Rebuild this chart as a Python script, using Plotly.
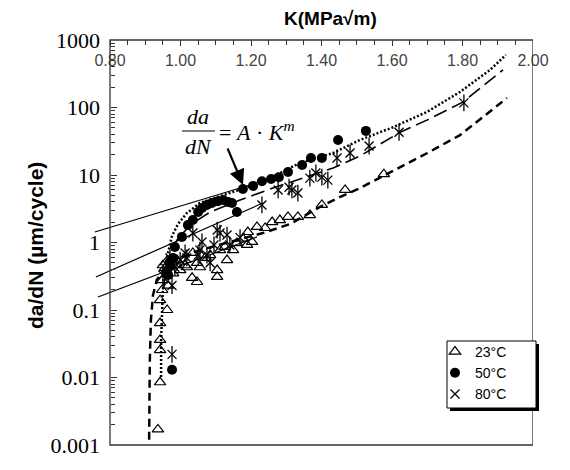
import plotly.graph_objects as go

# ---- data (K in MPa*sqrt(m), da/dN in um/cycle) ----
k_23 = [0.936, 0.942, 0.942, 0.942, 0.942, 0.962, 0.942, 0.948, 0.948, 0.956, 0.950,
        0.970, 0.979, 0.990, 0.999, 1.018, 1.035, 1.033, 1.047, 1.047, 1.055, 1.104,
        1.104, 1.112, 1.132, 1.149, 1.160, 1.189, 1.191, 1.203, 1.217, 1.240, 1.260,
        1.282, 1.305, 1.333, 1.367, 1.401, 1.467, 1.577, 0.959, 0.976, 0.965, 1.013,
        1.070, 1.084, 1.177, 1.126]
v_23 = [0.0017, 0.0085, 0.0255, 0.036, 0.064, 0.10, 0.14, 0.198, 0.278, 0.42, 0.46,
        0.55, 0.35, 0.55, 0.39, 0.43, 0.70, 0.30, 0.26, 0.50, 0.43, 0.31,
        0.39, 0.77, 0.55, 0.77, 0.98, 0.92, 1.43, 1.02, 1.70, 1.64, 2.01,
        2.15, 2.39, 2.39, 2.55, 3.6, 6.0, 10.3, 0.51, 0.51, 0.23, 0.46,
        0.59, 0.65, 1.14, 0.86]

k_50 = [0.976, 0.965, 0.970, 0.979, 0.984, 1.004, 1.021, 1.035, 1.050, 1.061, 1.075,
        1.089, 1.106, 1.121, 1.135, 1.146, 1.160, 1.177, 1.206, 1.231, 1.257, 1.279,
        1.305, 1.345, 1.370, 1.401, 1.447, 1.526]
v_50 = [0.013, 0.33, 0.46, 0.59, 0.86, 1.21, 1.81, 2.15, 2.83, 3.25, 3.6,
        3.85, 4.1, 4.27, 3.98, 3.85, 2.83, 6.2, 6.9, 8.1, 8.7, 9.3,
        11.1, 14.1, 17.9, 17.9, 33, 45]

k_80 = [0.976, 0.950, 0.962, 0.984, 0.999, 1.018, 1.035, 1.050, 1.055, 1.061, 1.075,
        1.084, 1.104, 1.112, 1.132, 1.140, 1.231, 1.277, 1.308, 1.316, 1.333, 1.367,
        1.384, 1.401, 1.418, 1.444, 1.481, 1.535, 1.620, 1.804, 0.970, 1.013, 1.095,
        1.169, 0.976]
v_80 = [0.022, 0.33, 0.39, 0.43, 0.55, 0.59, 1.38, 0.65, 0.77, 1.02, 0.65,
        0.50, 1.53, 1.38, 1.29, 0.92, 3.6, 6.0, 6.6, 6.0, 5.4, 9.0,
        10.7, 9.3, 8.4, 17.9, 21.2, 26.9, 43, 117, 0.59, 0.70, 0.92,
        1.18, 0.23]

# fitted curves
kfit_23 = [0.911, 0.911, 0.913, 0.916, 0.922, 0.933, 0.956, 0.999, 1.055, 1.140, 1.234,
           1.311, 1.396, 1.452, 1.509, 1.580, 1.699, 1.793, 1.926]
vfit_23 = [0.0012, 0.0046, 0.018, 0.071, 0.167, 0.28, 0.42, 0.59, 0.77, 1.02, 1.38,
           1.88, 3.36, 4.7, 6.4, 10, 21, 39, 138]

kfit_50 = [0.945, 0.945, 0.948, 0.950, 0.956, 0.965, 0.976, 0.993, 1.018, 1.055, 1.104,
           1.149, 1.226, 1.339, 1.433, 1.509, 1.603, 1.699, 1.793, 1.878, 1.923]
vfit_50 = [0.0102, 0.036, 0.10, 0.198, 0.39, 0.72, 1.25, 1.88, 2.73, 3.85, 4.7,
           5.6, 7.6, 15.1, 21.2, 33, 51, 86, 170, 360, 600]

kfit_80 = [0.950, 0.965, 0.990, 1.027, 1.084, 1.169, 1.262, 1.359, 1.433, 1.509, 1.623,
           1.699, 1.801, 1.915]
vfit_80 = [0.20, 0.55, 1.09, 1.81, 2.83, 4.27, 6.4, 9.3, 12.7, 19.1, 43,
           65, 120, 360]

# Paris-law straight lines
k_paris = [[0.757, 1.197], [0.760, 1.234], [0.766, 1.217]]
v_paris = [[1.43, 7.1], [0.308, 3.85], [0.156, 1.21]]

x_ticks = [0.8, 1.0, 1.2, 1.4, 1.6, 1.8, 2.0]
x_ticktext = ["0.80", "1.00", "1.20", "1.40", "1.60", "1.80", "2.00"]
y_ticks = [0.001, 0.01, 0.1, 1, 10, 100, 1000]
y_ticktext = ["0.001", "0.01", "0.1", "1", "10", "100", "1000"]

W, H = 570, 470
L, R, T, B = 78, 533, 40, 445


def px(x):
    return (x - L) / (R - L)


def py(y):
    return (B - y) / (B - T)


fig = go.Figure()

for kk, vv in zip(k_paris, v_paris):
    fig.add_trace(go.Scatter(x=kk, y=vv, mode="lines", showlegend=False,
                             line=dict(color="black", width=1.2)))

fig.add_trace(go.Scatter(x=kfit_23, y=vfit_23, mode="lines", showlegend=False,
                         line=dict(color="black", width=2.5, dash="8px,5px")))
fig.add_trace(go.Scatter(x=kfit_50, y=vfit_50, mode="lines", showlegend=False,
                         line=dict(color="black", width=2.5, dash="2px,2px")))
fig.add_trace(go.Scatter(x=kfit_80, y=vfit_80, mode="lines", showlegend=False,
                         line=dict(color="black", width=1.6, dash="14px,6px")))

fig.add_trace(go.Scatter(x=k_23, y=v_23, mode="markers", name="23°C",
                         marker=dict(symbol="triangle-up-open", size=10, color="black",
                                     line=dict(width=1.2))))
fig.add_trace(go.Scatter(x=k_50, y=v_50, mode="markers", name="50°C",
                         marker=dict(symbol="circle", size=10, color="black")))
fig.add_trace(go.Scatter(x=k_80, y=v_80, mode="markers", name="80°C", legendgroup="80",
                         marker=dict(symbol="x-thin-open", size=9, color="black",
                                     line=dict(width=1.3, color="black"))))
fig.add_trace(go.Scatter(x=k_80, y=v_80, mode="markers", showlegend=False, legendgroup="80",
                         marker=dict(symbol="line-ns-open", size=12, color="black",
                                     line=dict(width=1.3, color="black"))))

x_minor = [round(0.8 + 0.05 * i, 2) for i in range(25) if i % 4]
y_minor = [m * 10 ** e for e in range(-3, 3) for m in range(2, 10)]

fig.update_layout(
    width=W, height=H,
    margin=dict(l=L, r=W - R, t=T, b=H - B),
    paper_bgcolor="white", plot_bgcolor="white",
    font=dict(family="Liberation Sans, Arial", color="black"),
    xaxis=dict(
        range=[0.8 - (110 - L) / 352.5, 2.0], side="top", showgrid=False, zeroline=False,
        showline=False, tickvals=x_ticks, ticktext=x_ticktext, ticks="inside",
        ticklen=6, tickcolor="#333", ticklabelposition="inside", ticklabeloverflow="allow",
        ticklabelstandoff=9,
        tickfont=dict(size=16, family="Liberation Sans, Arial"),
        minor=dict(tickvals=x_minor, ticks="inside", ticklen=5, tickcolor="#333"),
    ),
    yaxis=dict(
        type="log", range=[-3, 3], anchor="free", position=px(110), showgrid=False,
        zeroline=False, showline=False, tickvals=y_ticks, ticktext=y_ticktext,
        ticks="inside", ticklen=6, tickcolor="#333", ticklabelstandoff=10,
        tickfont=dict(size=22, family="Liberation Serif, Times New Roman"),
        minor=dict(tickvals=y_minor, ticks="inside", ticklen=4, tickcolor="#333"),
    ),
    legend=dict(x=px(435), y=py(336), xanchor="left", yanchor="top",
                bgcolor="rgba(0,0,0,0)", borderwidth=0,
                font=dict(size=14), itemwidth=30, tracegroupgap=0),
    showlegend=True,
)

# frame of the plot (0.80 .. 2.00)
fig.add_shape(type="rect", xref="x", yref="paper", x0=0.8, x1=2.0, y0=0, y1=1,
              line=dict(color="#333", width=1.3))
# legend box with shadow
fig.add_shape(type="rect", xref="paper", yref="paper", x0=px(450), x1=px(539),
              y0=py(411), y1=py(344), fillcolor="black", line=dict(width=0),
              layer="above")
fig.add_shape(type="rect", xref="paper", yref="paper", x0=px(447), x1=px(536),
              y0=py(408), y1=py(341), fillcolor="white",
              line=dict(color="black", width=1), layer="above")

# titles
fig.add_annotation(x=px(330), y=py(18), xref="paper", yref="paper", showarrow=False,
                   xanchor="center", yanchor="middle",
                   text="<b>K(MPa√m)</b>", font=dict(size=19))
fig.add_annotation(x=px(35), y=py(246), xref="paper", yref="paper", showarrow=False,
                   xanchor="center", yanchor="middle",
                   text="<b>da/dN (µm/cycle)</b>", textangle=-90, font=dict(size=21))

# equation da/dN = A K^m
eq_font = dict(family="Liberation Serif, Times New Roman", size=22)
fig.add_annotation(x=px(198), y=py(117), xref="paper", yref="paper", showarrow=False,
                   xanchor="center", yanchor="middle", text="<i>da</i>", font=eq_font)
fig.add_annotation(x=px(198), y=py(146), xref="paper", yref="paper", showarrow=False,
                   xanchor="center", yanchor="middle", text="<i>dN</i>", font=eq_font)
fig.add_shape(type="line", xref="paper", yref="paper", x0=px(182), x1=px(215),
              y0=py(131), y1=py(131), line=dict(color="black", width=1.2))
fig.add_annotation(x=px(217), y=py(131), xref="paper", yref="paper", showarrow=False,
                   xanchor="left", yanchor="middle",
                   text="= <i>A</i> · <i>K</i><sup><i>m</i></sup>", font=eq_font)
fig.add_annotation(x=px(243), y=py(185), xref="paper", yref="paper", text="",
                   showarrow=True, ax=-16, ay=-38, arrowhead=2, arrowsize=1.4,
                   arrowwidth=2.2, arrowcolor="black")

fig.write_html("out.html", config={"displayModeBar": False},
               post_script="document.body.style.margin='0px';")
